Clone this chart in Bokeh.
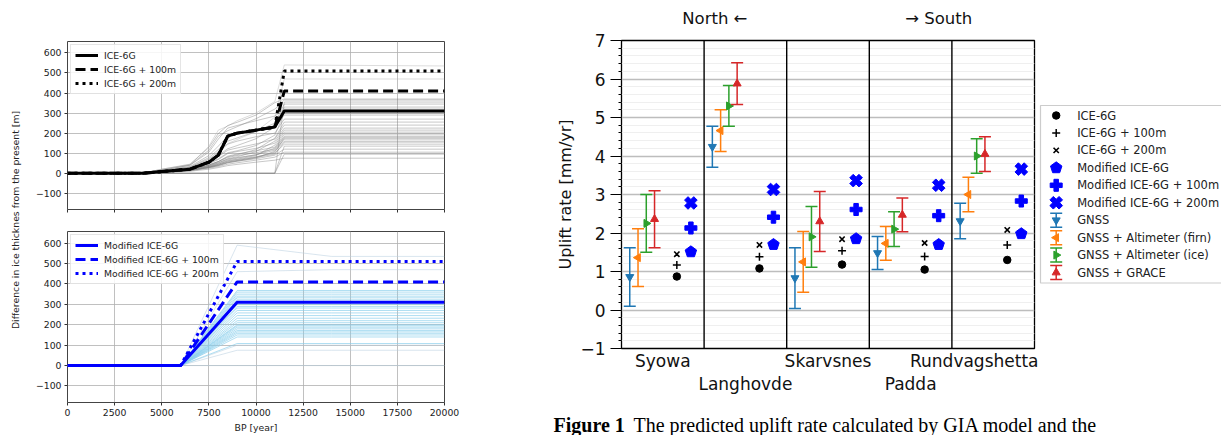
import math
from bokeh.plotting import figure
from bokeh.models import Range1d, FixedTicker, LinearAxis, Span, CustomLabelingPolicy
from bokeh.layouts import row, column
from bokeh.embed import file_html
from bokeh.resources import INLINE
from bokeh.core.properties import value

FONT = "DejaVu Sans"
SERIF = "Liberation Serif"

# ---------------- data: ice thickness histories ----------------
YEARS = [0, 4000, 5000, 6500, 7500, 8000, 8500, 9000, 10000, 11000, 11500, 20000]
ICE6G = [0, 0, 8, 20, 55, 90, 185, 200, 215, 230, 310, 310]
ICE6G_100 = [0, 0, 8, 20, 55, 90, 185, 200, 215, 230, 410, 410]
ICE6G_200 = [0, 0, 8, 20, 55, 90, 185, 200, 215, 230, 510, 510]
ICE_MEMBERS = [
    [0, 0, 3, 10, 20, 28, 38, 44, 55, 65, 75, 75],
    [0, 0, 0, 0, 0, 0, 0, 0, 0, 0, 95, 95],
    [0, 0, 4, 12, 25, 33, 45, 52, 65, 80, 105, 105],
    [0, 0, 5, 14, 28, 38, 52, 60, 72, 90, 120, 120],
    [0, 0, 0, 0, 0, 0, 0, 0, 0, 0, 135, 135],
    [0, 0, 5, 16, 33, 45, 60, 68, 82, 100, 145, 145],
    [0, 0, 6, 15, 30, 42, 56, 64, 78, 95, 155, 155],
    [0, 0, 5, 14, 28, 38, 52, 60, 76, 110, 160, 160],
    [0, 0, 6, 18, 38, 52, 70, 78, 92, 115, 170, 170],
    [0, 0, 5, 15, 30, 40, 55, 63, 80, 105, 175, 175],
    [0, 0, 8, 20, 42, 58, 78, 88, 102, 120, 180, 180],
    [0, 0, 5, 15, 34, 48, 66, 75, 92, 125, 185, 185],
    [0, 0, 7, 20, 40, 58, 85, 96, 112, 130, 195, 195],
    [0, 0, 5, 15, 30, 44, 62, 70, 88, 140, 205, 205],
    [0, 0, 8, 22, 48, 68, 98, 108, 124, 150, 215, 215],
    [0, 0, 6, 18, 35, 52, 72, 82, 108, 160, 225, 225],
    [0, 0, 10, 25, 58, 82, 115, 126, 146, 170, 240, 240],
    [0, 0, 6, 18, 40, 58, 82, 92, 118, 175, 255, 255],
    [0, 0, 10, 28, 68, 105, 145, 160, 182, 200, 270, 270],
    [0, 0, 12, 34, 88, 135, 185, 196, 216, 235, 290, 290],
    [0, 0, 8, 22, 50, 72, 102, 112, 138, 190, 300, 300],
    [0, 0, 15, 40, 105, 170, 225, 238, 262, 285, 320, 320],
    [0, 0, 10, 25, 60, 88, 122, 138, 172, 230, 330, 330],
    [0, 0, 12, 30, 78, 118, 160, 176, 208, 250, 345, 345],
    [0, 0, 0, 0, 0, 0, 0, 0, 0, 0, 355, 355],
    [0, 0, 15, 40, 115, 185, 212, 232, 272, 320, 365, 365],
    [0, 0, 20, 45, 128, 198, 238, 254, 290, 352, 370, 370],
]
ICE_MEMBERS_FAINT = [
    [0, 0, 10, 30, 72, 108, 148, 168, 208, 280, 470, 470],
    [0, 0, 20, 42, 135, 215, 235, 262, 300, 358, 540, 535],
]

MOD_YEARS = [0, 6000, 9000, 14000, 20000]
MOD_ICE6G = [0, 0, 310, 310, 310]
MOD_ICE6G_100 = [0, 0, 410, 410, 410]
MOD_ICE6G_200 = [0, 0, 510, 510, 510]
MOD_MEMBERS = [
    [0, 0, 108, 108, 108],
    [0, 0, 140, 140, 140],
    [0, 0, 150, 150, 150],
    [0, 0, 158, 158, 158],
    [0, 0, 165, 165, 165],
    [0, 0, 172, 172, 172],
    [0, 0, 180, 180, 180],
    [0, 0, 188, 188, 188],
    [0, 0, 195, 195, 195],
    [0, 0, 200, 200, 200],
    [0, 0, 210, 210, 210],
    [0, 0, 220, 220, 220],
    [0, 0, 232, 232, 232],
    [0, 0, 245, 245, 245],
    [0, 0, 258, 258, 258],
    [0, 0, 270, 270, 270],
    [0, 0, 282, 282, 282],
    [0, 0, 290, 290, 290],
    [0, 0, 300, 300, 300],
    [0, 0, 322, 322, 322],
    [0, 0, 332, 332, 332],
    [0, 0, 340, 340, 340],
    [0, 0, 350, 350, 350],
    [0, 0, 360, 360, 360],
    [0, 0, 368, 368, 368],
]
MOD_MEMBERS_FAINT = [
    [0, 0, 0, 0, 0],
    [0, 0, 75, 75, 75],
    [0, 0, 100, 100, 100],
    [0, 0, 460, 470, 470],
    [0, 0, 590, 535, 535],
]

LEFT_XTICKS = [0, 2500, 5000, 7500, 10000, 12500, 15000, 17500, 20000]
LEFT_YTICKS = [-100, 0, 100, 200, 300, 400, 500, 600]

# ---------------- data: uplift rates ----------------
SITES = ["Syowa", "Langhovde", "Skarvsnes", "Padda", "Rundvagshetta"]
GNSS = [0.86, 4.24, 0.83, 1.48, 2.31]
GNSS_ERR = [0.76, 0.53, 0.79, 0.43, 0.46]
GNSS_FIRN = [1.36, 4.66, 1.25, 1.73, 3.00]
GNSS_FIRN_ERR = [0.75, 0.54, 0.79, 0.44, 0.45]
GNSS_ICE = [2.25, 5.30, 1.90, 2.10, 4.00]
GNSS_ICE_ERR = [0.75, 0.53, 0.79, 0.45, 0.45]
GNSS_GRACE = [2.36, 5.88, 2.30, 2.47, 4.05]
GNSS_GRACE_ERR = [0.74, 0.54, 0.78, 0.44, 0.45]
RATE_ICE6G = [0.87, 1.08, 1.18, 1.05, 1.30]
RATE_ICE6G_100 = [1.17, 1.38, 1.54, 1.39, 1.69]
RATE_ICE6G_200 = [1.45, 1.69, 1.84, 1.74, 2.08]
RATE_MOD = [1.51, 1.70, 1.85, 1.70, 1.98]
RATE_MOD_100 = [2.13, 2.41, 2.61, 2.45, 2.83]
RATE_MOD_200 = [2.78, 3.13, 3.36, 3.24, 3.66]
RATE_YTICKS = [-1, 0, 1, 2, 3, 4, 5, 6, 7]
LEGEND_LABELS = ["ICE-6G", "ICE-6G + 100m", "ICE-6G + 200m", "Modified ICE-6G",
                 "Modified ICE-6G + 100m", "Modified ICE-6G + 200m", "GNSS",
                 "GNSS + Altimeter (firn)", "GNSS + Altimeter (ice)", "GNSS + GRACE"]
CAPTION_BOLD = "Figure 1"
CAPTION_TEXT = "The predicted uplift rate calculated by GIA model and the"

# ---------------- layout constants (page pixels) ----------------
H = 435
CAP_H = 22
RH = H - CAP_H
FRAME_TOP, FRAME_BOTTOM = 40, 348          # right-hand frame, page y
FRAME_W = 413

# ---------------- helpers ----------------
def minus(v):
    return str(v).replace("-", "\u2212")

def blank_fig(w, h, top=0, bottom=0):
    # frame spans page rows top .. h-bottom; y range given in page pixels
    p = figure(width=w, height=h, x_range=Range1d(0, w), y_range=Range1d(h - bottom, top),
               title=None, min_border_left=0, min_border_right=0,
               min_border_top=top, min_border_bottom=bottom,
               output_backend="svg", toolbar_location=None)
    p.axis.visible = False
    p.grid.visible = False
    p.outline_line_color = None
    return p

def make_thickness_fig(height, top, bottom, show_x):
    p = figure(width=460, height=height, x_range=Range1d(0, 20000), y_range=Range1d(-181, 657),
               min_border_left=39, min_border_right=44, min_border_top=top, min_border_bottom=bottom,
               output_backend="svg", toolbar_location=None)
    p.outline_line_color = "#444444"
    p.outline_line_width = 1
    for ax in (p.xaxis[0], p.yaxis[0]):
        ax.axis_line_color = None
        ax.major_tick_out = 3
        ax.major_tick_in = 0
        ax.minor_tick_out = 0
        ax.minor_tick_in = 0
        ax.major_tick_line_color = "#333333"
        ax.major_label_text_font = FONT
        ax.major_label_text_font_size = "9.3px"
        ax.major_label_text_color = "#222222"
    p.xaxis.ticker = FixedTicker(ticks=LEFT_XTICKS)
    p.yaxis.ticker = FixedTicker(ticks=LEFT_YTICKS)
    p.xgrid.ticker = FixedTicker(ticks=LEFT_XTICKS)
    p.ygrid.ticker = FixedTicker(ticks=LEFT_YTICKS)
    p.yaxis.major_label_overrides = {t: minus(t) for t in LEFT_YTICKS}
    p.yaxis.major_label_standoff = 3
    p.grid.grid_line_color = "#b0b0b0"
    p.grid.grid_line_width = 0.8
    if show_x:
        p.xaxis.major_label_standoff = 3
        p.xaxis.axis_label = "BP [year]"
        p.xaxis.axis_label_text_font = FONT
        p.xaxis.axis_label_text_font_size = "9.3px"
        p.xaxis.axis_label_text_font_style = "normal"
        p.xaxis.axis_label_text_color = "#222222"
        p.xaxis.axis_label_standoff = 3
    else:
        p.xaxis.major_label_standoff = 0
        p.xaxis.major_label_policy = CustomLabelingPolicy(
            code="for (const i of indices) { indices.unset(i) }\nreturn indices")
    return p

def style_legend(p):
    lg = p.legend[0]
    lg.location = "top_left"
    lg.margin = 3
    lg.padding = 4
    lg.spacing = 2
    lg.label_height = 12
    lg.glyph_height = 12
    lg.glyph_width = 23
    lg.label_standoff = 6
    lg.label_text_font = FONT
    lg.label_text_font_size = "9.3px"
    lg.label_text_color = "#222222"
    lg.border_line_color = "#cccccc"
    lg.border_line_width = 1
    lg.background_fill_alpha = 0.85

# ---------------- y-label strip ----------------
pl = blank_fig(28, H)
pl.text(x=[14.7], y=[219.5], text=["Difference in ice thicknes from the present [m]"],
        angle=math.pi / 2, text_align="center", text_baseline="middle",
        text_font=value(FONT), text_font_size="9.3px", text_color="#222222")

# ---------------- top: ICE-6G ----------------
pt = make_thickness_fig(222, 41, 9, False)
pt.multi_line(xs=[YEARS] * len(ICE_MEMBERS_FAINT), ys=ICE_MEMBERS_FAINT, line_color="#b8b8b8",
              line_alpha=0.6, line_width=0.8)
pt.multi_line(xs=[YEARS] * len(ICE_MEMBERS), ys=ICE_MEMBERS, line_color="#808080",
              line_alpha=0.55, line_width=0.8)
pt.line(YEARS, ICE6G, line_color="black", line_width=3, legend_label="ICE-6G")
pt.line(YEARS, ICE6G_100, line_color="black", line_width=3, line_dash="10 5", legend_label="ICE-6G + 100m")
pt.line(YEARS, ICE6G_200, line_color="black", line_width=3, line_dash="3 4", legend_label="ICE-6G + 200m")
style_legend(pt)

# ---------------- bottom: Modified ICE-6G ----------------
pb = make_thickness_fig(H - 222, 9, 31, True)
pb.multi_line(xs=[MOD_YEARS] * len(MOD_MEMBERS_FAINT), ys=MOD_MEMBERS_FAINT, line_color="#b9cfe0",
              line_alpha=0.6, line_width=0.9)
pb.multi_line(xs=[MOD_YEARS] * len(MOD_MEMBERS), ys=MOD_MEMBERS, line_color="#87ceeb",
              line_alpha=0.75, line_width=0.9)
pb.line(MOD_YEARS, MOD_ICE6G, line_color="blue", line_width=3, legend_label="Modified ICE-6G")
pb.line(MOD_YEARS, MOD_ICE6G_100, line_color="blue", line_width=3, line_dash="10 5",
        legend_label="Modified ICE-6G + 100m")
pb.line(MOD_YEARS, MOD_ICE6G_200, line_color="blue", line_width=3, line_dash="3 4",
        legend_label="Modified ICE-6G + 200m")
style_legend(pb)

# ---------------- right: uplift rates ----------------
FRAME_H = FRAME_BOTTOM - FRAME_TOP
n = len(SITES)
pr = figure(width=550, height=RH, x_range=Range1d(-0.5, n - 0.5), y_range=Range1d(-1, 7),
            min_border_left=133, min_border_right=4, min_border_top=FRAME_TOP,
            min_border_bottom=RH - FRAME_BOTTOM,
            output_backend="svg", toolbar_location=None)
px_x = FRAME_W / n
px_y = FRAME_H / 8.0
pr.outline_line_color = "black"
pr.outline_line_width = 1.3
pr.xgrid.visible = False
minor = [t + 0.2 * j for t in RATE_YTICKS[:-1] for j in range(1, 5)]
yt = FixedTicker(ticks=RATE_YTICKS, minor_ticks=minor)
pr.yaxis.ticker = yt
pr.ygrid.ticker = yt
pr.ygrid.grid_line_color = "#bdbdbd"
pr.ygrid.grid_line_width = 1.5
pr.ygrid.minor_grid_line_color = "#efefef"
pr.ygrid.minor_grid_line_width = 1
ya = pr.yaxis[0]
ya.axis_line_color = None
ya.major_tick_out = 11
ya.major_tick_in = 0
ya.minor_tick_out = 3
ya.minor_tick_in = 0
ya.major_tick_line_color = "black"
ya.minor_tick_line_color = "black"
ya.major_label_overrides = {t: minus(t) for t in RATE_YTICKS}
ya.major_label_standoff = 5
ya.major_label_text_font = FONT
ya.major_label_text_font_size = "17px"
ya.major_label_text_color = "#111111"
ya.axis_label = "Uplift rate [mm/yr]"
ya.axis_label_text_font = FONT
ya.axis_label_text_font_size = "16px"
ya.axis_label_text_font_style = "normal"
ya.axis_label_text_color = "#111111"
ya.axis_label_standoff = 2

def site_axis(ax, idx, standoff):
    ax.ticker = FixedTicker(ticks=idx)
    ax.major_label_overrides = {i: SITES[i] for i in idx}
    ax.axis_line_color = None
    ax.major_tick_out = 0
    ax.major_tick_in = 0
    ax.minor_tick_out = 0
    ax.minor_tick_in = 0
    ax.major_label_standoff = standoff
    ax.major_label_text_font = FONT
    ax.major_label_text_font_size = "17px"
    ax.major_label_text_color = "#111111"

site_axis(pr.xaxis[0], list(range(0, n, 2)), 2)
ax2 = LinearAxis()
site_axis(ax2, list(range(1, n, 2)), 0)
pr.add_layout(ax2, "below")

top_ax = LinearAxis(ticker=FixedTicker(ticks=[0.63, 3.34]),
                    major_label_overrides={0.63: "North \u2190", 3.34: "\u2192 South"})
top_ax.axis_line_color = None
top_ax.major_tick_out = 0
top_ax.major_tick_in = 0
top_ax.minor_tick_out = 0
top_ax.minor_tick_in = 0
top_ax.major_label_standoff = 13
top_ax.major_label_text_font = FONT
top_ax.major_label_text_font_size = "16.5px"
top_ax.major_label_text_color = "#111111"
pr.add_layout(top_ax, "above")

for k in range(n - 1):
    pr.add_layout(Span(location=k + 0.5, dimension="height", line_color="black", line_width=1.4))

OBS = [
    (GNSS, GNSS_ERR, "#1f77b4", "inverted_triangle", 0.0),
    (GNSS_FIRN, GNSS_FIRN_ERR, "#ff7f0e", "triangle", math.pi / 2),
    (GNSS_ICE, GNSS_ICE_ERR, "#2ca02c", "triangle", -math.pi / 2),
    (GNSS_GRACE, GNSS_GRACE_ERR, "#d62728", "triangle", 0.0),
]
OBS_OFFSETS = [-0.4, -0.3, -0.2, -0.1]
cap = 6.0 / px_x
for (vals, errs, col, mk, ang), off in zip(OBS, OBS_OFFSETS):
    xs = [i + off for i in range(n)]
    lo = [v - e for v, e in zip(vals, errs)]
    hi = [v + e for v, e in zip(vals, errs)]
    pr.segment(x0=xs, y0=lo, x1=xs, y1=hi, line_color=col, line_width=1.5)
    pr.segment(x0=[x - cap for x in xs], y0=lo, x1=[x + cap for x in xs], y1=lo, line_color=col, line_width=1.5)
    pr.segment(x0=[x - cap for x in xs], y0=hi, x1=[x + cap for x in xs], y1=hi, line_color=col, line_width=1.5)
    pr.scatter(xs, vals, marker=mk, angle=ang, size=8, fill_color=col, line_color=col)

xb = [i + 0.17 for i in range(n)]
pr.scatter(xb, RATE_ICE6G, marker="circle", size=7.5, fill_color="black", line_color="black")
pr.scatter(xb, RATE_ICE6G_100, marker="cross", size=8, line_color="black", line_width=1.5)
pr.scatter(xb, RATE_ICE6G_200, marker="x", size=7.5, line_color="black", line_width=1.6)

xm = [i + 0.34 for i in range(n)]
def pentagon(cx, cy, r):
    return ([cx + r * math.cos(math.pi / 2 + 2 * math.pi * j / 5) / px_x for j in range(5)],
            [cy + r * math.sin(math.pi / 2 + 2 * math.pi * j / 5) / px_y for j in range(5)])
pxs, pys = [], []
for cx, cy in zip(xm, RATE_MOD):
    a, b = pentagon(cx, cy, 6.0)
    pxs.append(a)
    pys.append(b)
pr.patches(pxs, pys, fill_color="blue", line_color="blue")
pr.scatter(xm, RATE_MOD_100, marker="plus", size=12, fill_color="blue", line_color="blue")
pr.scatter(xm, RATE_MOD_200, marker="plus", angle=math.pi / 4, size=13, fill_color="blue", line_color="blue")

# ---------------- legend strip (same top/bottom borders as the right plot) ----------------
LW = 1221 - 28 - 460 - 550
pg = blank_fig(LW, RH, top=FRAME_TOP, bottom=RH - FRAME_BOTTOM)
pg.quad(left=[2], right=[400], top=[105], bottom=[282.5], fill_color="white",
        line_color="#cccccc", line_width=1.2)
row_y = [115 + 17.45 * i for i in range(len(LEGEND_LABELS))]
mx = 17.7
pg.scatter([mx], [row_y[0]], marker="circle", size=7.5, fill_color="black", line_color="black")
pg.scatter([mx], [row_y[1]], marker="cross", size=8, line_color="black", line_width=1.5)
pg.scatter([mx], [row_y[2]], marker="x", size=7.5, line_color="black", line_width=1.6)
lx, ly = [], []
for j in range(5):
    ang = math.pi / 2 + 2 * math.pi * j / 5
    lx.append(mx + 6.0 * math.cos(ang))
    ly.append(row_y[3] - 6.0 * math.sin(ang))
pg.patch(lx, ly, fill_color="blue", line_color="blue")
pg.scatter([mx], [row_y[4]], marker="plus", size=12, fill_color="blue", line_color="blue")
pg.scatter([mx], [row_y[5]], marker="plus", angle=math.pi / 4, size=13, fill_color="blue", line_color="blue")
for (vals, errs, col, mk, ang), yy in zip(OBS, row_y[6:]):
    pg.segment(x0=[mx], y0=[yy - 7], x1=[mx], y1=[yy + 7], line_color=col, line_width=1.5)
    pg.segment(x0=[mx - 6, mx - 6], y0=[yy - 7, yy + 7], x1=[mx + 6, mx + 6], y1=[yy - 7, yy + 7],
               line_color=col, line_width=1.5)
    pg.scatter([mx], [yy], marker=mk, angle=ang, size=8, fill_color=col, line_color=col)
pg.text(x=[38.7] * len(LEGEND_LABELS), y=row_y, text=LEGEND_LABELS, text_baseline="middle",
        text_font=value(FONT), text_font_size="11.5px", text_color="#222222")

# ---------------- caption strip ----------------
CW = 550 + LW
pc = blank_fig(CW, CAP_H)
pc.text(x=[65], y=[11], text=[CAPTION_BOLD], text_font=value(SERIF), text_font_size="20px",
        text_font_style="bold", text_color="black", text_baseline="alphabetic")
pc.text(x=[145], y=[11], text=[CAPTION_TEXT], text_font=value(SERIF), text_font_size="20px",
        text_color="black", text_baseline="alphabetic")

layout = row(pl, column(pt, pb), column(row(pr, pg), pc))
open("out.html", "w").write(file_html(layout, INLINE))
